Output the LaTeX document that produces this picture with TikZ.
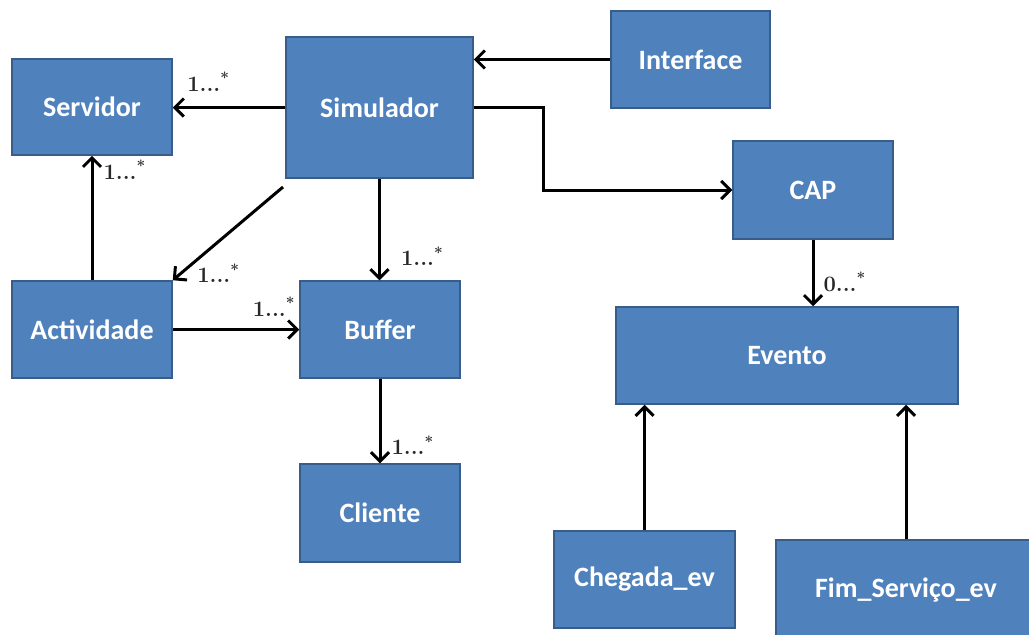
\documentclass[tikz,border=0pt]{standalone}
\usepackage{fontspec}
\newfontfamily\boxfont{Carlito}
\usetikzlibrary{arrows.meta}
\definecolor{boxblue}{RGB}{79,129,189}
\definecolor{boxline}{RGB}{56,93,138}
\definecolor{multgray}{RGB}{40,40,40}
\tikzset{
  classe/.style 2 args={draw=boxline,line width=1.5pt,fill=boxblue,text=white,
    minimum width=#1pt,minimum height=#2pt,inner sep=0pt,
    font=\boxfont\bfseries\fontsize{28}{32}\selectfont},
  mult/.style={text=multgray,inner sep=0pt,anchor=south west,font=\bfseries\fontsize{22}{26}\selectfont},
  liga/.style={->,line width=3pt}
}
\newcommand{\card}[1]{#1...\textsuperscript{*}}
\begin{document}
\begin{tikzpicture}[x=1pt,y=-1pt,>={Straight Barb[length=9pt,width=18pt]}]
\useasboundingbox (0,0) rectangle (1029,635);
% classes
\node[classe={160}{96}] (serv) at (92,107) {Servidor};
\node[classe={187}{141}] (sim) at (379.5,107.5) {Simulador};
\node[classe={159}{97}] (intf) at (690.5,59.5) {Interface};
\node[classe={160}{98}] (cap) at (813,190) {CAP};
\node[classe={160}{97}] (act) at (92,329.5) {Actividade};
\node[classe={160}{97}] (buf) at (380,329.5) {Buffer};
\node[classe={160}{98}] (cli) at (380,513) {Cliente};
\node[classe={342}{97}] (evt) at (787,355.5) {Evento};
\node[classe={181}{97}] (cheg) at (644.5,579.5) {Chegada\_ev};
\node[classe={260}{100}] (fim) at (906,590) {Fim\_Serviço\_ev};
\coordinate (diag) at (283,187);
% ligacoes
\draw[liga](intf.west)--(intf.west-|sim.east);
\draw[liga](sim.west)--(sim.west-|serv.east)node[mult,xshift=13pt,yshift=15pt](m1){\card{1}};
\draw[liga](sim.east)--++(70,0)|-(cap.west);
\draw[liga](sim.south)--(sim.south|-buf.north)node[mult,xshift=20pt,yshift=13pt](m2){\card{1}};
\draw[liga](diag)--(act.north east)node[mult,xshift=23pt,yshift=-4pt](m3){\card{1}};
\draw[liga](act.north)--(serv.south)node[mult,xshift=10pt,yshift=-25pt](m4){\card{1}};
\draw[liga](act.east)--(buf.west)node[mult,xshift=-48pt,yshift=12pt](m5){\card{1}};
\draw[liga](buf.south)--(cli.north)node[mult,xshift=10pt,yshift=7pt](m6){\card{1}};
\draw[liga](cap.south)--(cap.south|-evt.north)node[mult,xshift=9pt,yshift=13pt](m7){\card{0}};
\draw[liga](cheg.north)--(cheg.north|-evt.south);
\draw[liga](fim.north)--(fim.north|-evt.south);
\end{tikzpicture}
\end{document}
